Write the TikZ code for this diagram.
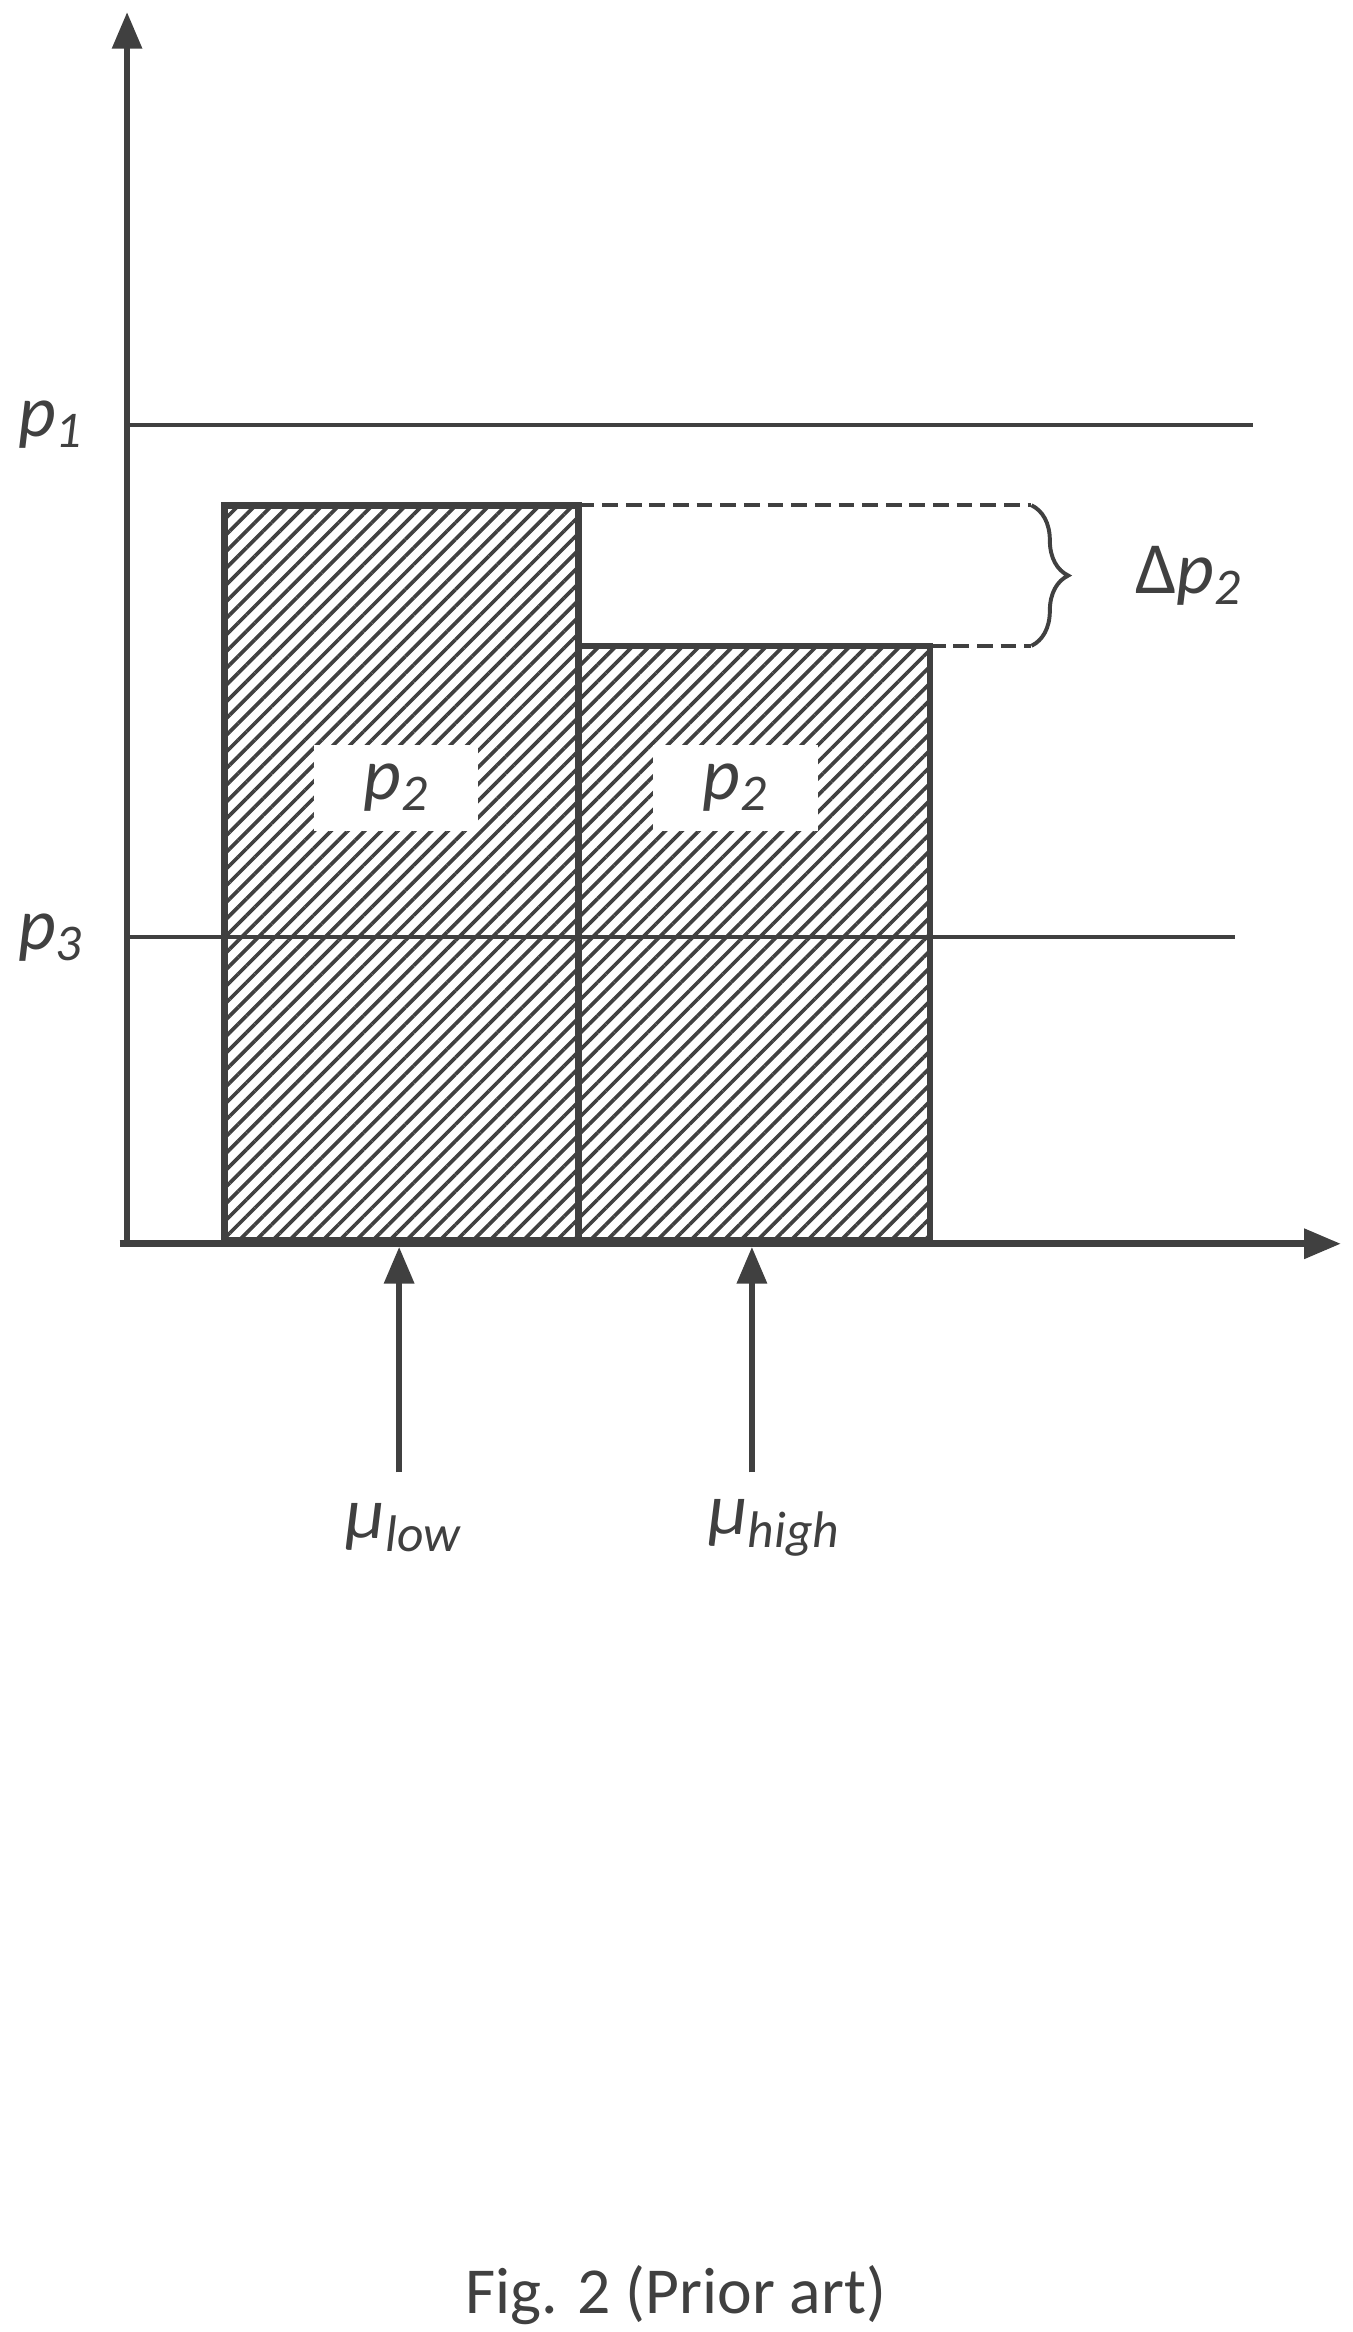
\documentclass[tikz,border=0pt]{standalone}
\usepackage{fontspec}
\setmainfont{Carlito}
\usetikzlibrary{patterns.meta,decorations.pathreplacing,arrows.meta}
\definecolor{ink}{HTML}{404040}
\def\levels{{284/838/1}, {627/826/3}}
\def\bars{{150/387/338/l}, {387/622/432/r}}
\def\marks{{267/270/low}, {503/518/high}}
\tikzstyle{axis} = [draw, ink, line width=2.5pt, -{Triangle[length=14pt,width=11pt]}]
\tikzstyle{level} = [draw, ink, line width=1.5pt]
\tikzstyle{bar} = [draw, ink, line width=2.5pt, pattern={Lines[angle=45,distance=4.5pt,line width=1.4pt]}, pattern color=ink]
\tikzstyle{gap} = [draw, ink, line width=1.5pt, dash pattern=on 6pt off 3pt]
\tikzstyle{label} = [font=\fontsize{28}{32}\selectfont\itshape, text=ink]
\tikzstyle{box} = [fill=white, minimum width=2.2cm, minimum height=1.15cm, label]
\begin{document}
\begin{tikzpicture}[x=0.02cm, y=-0.02cm]
  \useasboundingbox (0,0) rectangle (905,1560);
  % The bars
  \foreach \xa/\xb/\top/\name in \bars {
    \path[bar] (\xa,830) rectangle (\xb,\top);
    \coordinate (\name) at (\xb,\top);
    }
  \node[box] (pl) at (265,527) {p\textsubscript{2}};
  \node[box] (pr) at (492,527) {p\textsubscript{2}};

  % Levels
  \foreach \y/\xe/\txt in \levels {
    \coordinate (s\y) at (85,\y);
    \coordinate (e\y) at (\xe,\y);
    \path[level] (s\y) -- (e\y);
    \node[label, anchor=east] at (62,\y) {p\textsubscript{\txt}};
    }

  % Axes
  \coordinate (o) at (85,832);
  \coordinate (ytop) at (85,8);
  \coordinate (xend) at (897,832);
  \path[axis] (o) -- (ytop);
  \path[axis] (80,832) -- (xend);

  % Difference of the two tops
  \coordinate (dl) at (690,338);
  \coordinate (dr) at (690,432);
  \path[gap] (l) -- (dl);
  \path[gap] (r) -- (dr);
  \draw[ink, line width=1.5pt, decorate, decoration={brace, amplitude=14pt}] (dl) -- (dr);
  \node[label] (dp) at (795,385) {\upshape Δ\itshape p\textsubscript{2}};

  % Markers under the axis
  \foreach \x/\xt/\sub in \marks {
    \coordinate (m\sub) at (\x,985);
    \coordinate (a\sub) at (\x,834);
    \path[axis] (m\sub) -- (a\sub);
    \node[label] at (\xt,1022) {μ\textsubscript{\sub}};
    }

  \node[font=\fontsize{25}{30}\selectfont, text=ink] (cap) at (452,1535) {Fig. 2 (Prior art)};
\end{tikzpicture}
\end{document}
